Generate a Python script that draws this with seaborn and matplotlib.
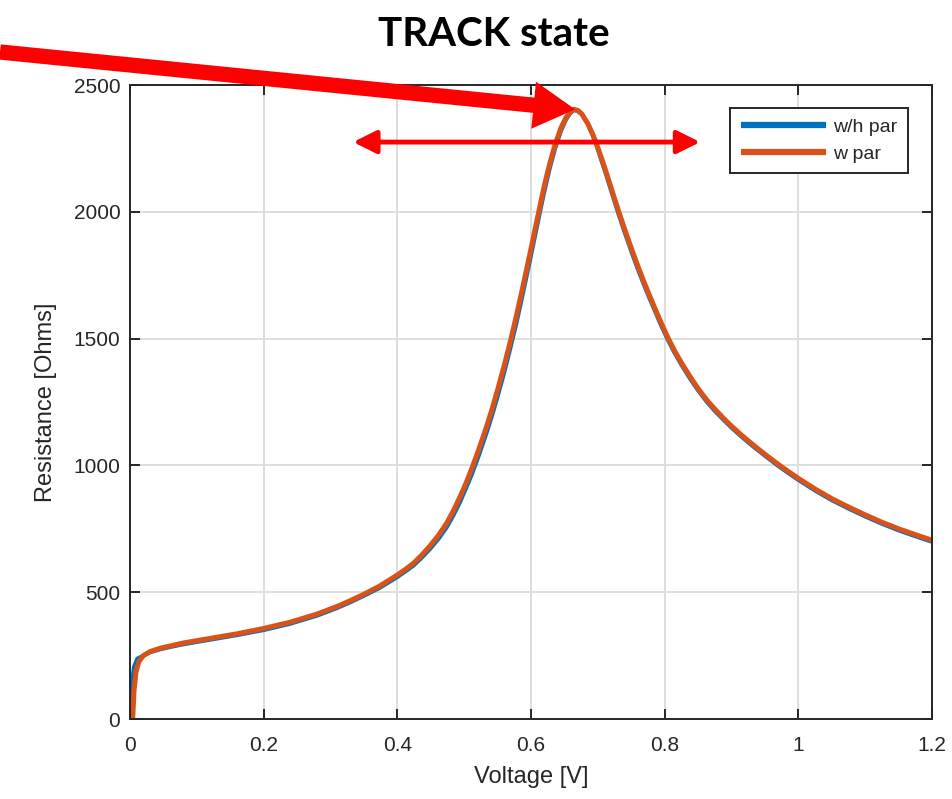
import numpy as np
import pandas as pd
import seaborn as sns
import matplotlib.pyplot as plt

# curve without parasitics (blue) and with parasitics (orange)
volt_whpar = [0.001, 0.003, 0.006, 0.011, 0.02, 0.03, 0.045, 0.06, 0.08, 0.12, 0.16, 0.2,
              0.24, 0.28, 0.31, 0.329, 0.35, 0.374, 0.4, 0.412, 0.424, 0.436, 0.449, 0.462,
              0.474, 0.484, 0.494, 0.503, 0.511, 0.522, 0.534, 0.542, 0.55, 0.56, 0.569,
              0.578, 0.586, 0.592, 0.598, 0.604, 0.609, 0.615, 0.62, 0.628, 0.636, 0.645,
              0.652, 0.658, 0.664, 0.67, 0.676, 0.685, 0.692, 0.698, 0.705, 0.712, 0.721,
              0.731, 0.74, 0.75, 0.759, 0.768, 0.777, 0.785, 0.795, 0.805, 0.815, 0.825,
              0.838, 0.85, 0.863, 0.875, 0.888, 0.9, 0.913, 0.925, 0.938, 0.954, 0.97,
              0.985, 1.0, 1.025, 1.05, 1.075, 1.1, 1.125, 1.15, 1.175, 1.2]
res_whpar = [0, 140, 205, 238, 250, 263, 275, 284, 295, 313, 331, 351,
             376, 408, 438, 460, 486, 518, 560, 582, 605, 635, 671, 712,
             757, 804, 857, 912, 962, 1040, 1133, 1200, 1272, 1368, 1462,
             1560, 1656, 1730, 1804, 1880, 1944, 2020, 2082, 2172, 2250, 2321,
             2362, 2387, 2401, 2398, 2385, 2346, 2304, 2262, 2206, 2150, 2074,
             1991, 1920, 1845, 1780, 1719, 1661, 1612, 1550, 1494, 1443, 1397,
             1342, 1296, 1251, 1215, 1180, 1149, 1118, 1091, 1063, 1030, 998,
             970, 943, 901, 863, 830, 799, 770, 744, 721, 699]

volt_wpar = [0.004, 0.006, 0.009, 0.013, 0.02, 0.03, 0.045, 0.06, 0.08, 0.12, 0.16, 0.2,
             0.24, 0.28, 0.31, 0.329, 0.35, 0.374, 0.4, 0.412, 0.424, 0.436, 0.449, 0.462,
             0.474, 0.484, 0.494, 0.503, 0.511, 0.522, 0.534, 0.542, 0.55, 0.56, 0.569,
             0.578, 0.586, 0.592, 0.598, 0.604, 0.609, 0.615, 0.62, 0.628, 0.636, 0.645,
             0.652, 0.658, 0.664, 0.67, 0.676, 0.685, 0.692, 0.698, 0.705, 0.712, 0.721,
             0.731, 0.74, 0.75, 0.759, 0.768, 0.777, 0.785, 0.795, 0.805, 0.815, 0.825,
             0.838, 0.85, 0.863, 0.875, 0.888, 0.9, 0.913, 0.925, 0.938, 0.954, 0.97,
             0.985, 1.0, 1.025, 1.05, 1.075, 1.1, 1.125, 1.15, 1.175, 1.2]
res_wpar = [0, 110, 185, 225, 250, 266, 279, 288, 300, 318, 336, 357,
            382, 414, 444, 466, 492, 525, 568, 590, 614, 645, 683, 726,
            773, 822, 877, 932, 985, 1064, 1157, 1225, 1298, 1395, 1488,
            1588, 1683, 1756, 1830, 1905, 1968, 2043, 2104, 2190, 2265, 2332,
            2370, 2392, 2404, 2400, 2386, 2348, 2308, 2268, 2215, 2160, 2085,
            2003, 1932, 1857, 1792, 1730, 1672, 1622, 1560, 1503, 1451, 1405,
            1350, 1303, 1258, 1222, 1186, 1155, 1124, 1097, 1069, 1036, 1004,
            976, 949, 907, 869, 836, 805, 776, 750, 727, 705]

series_names = ['w/h par', 'w par']
series_colors = ['#0072BD', '#D95319']

peak_v, peak_r = 0.666, 2404
span_v = [0.334, 0.853]
span_r = 2275

df_whpar = pd.DataFrame({'Voltage': volt_whpar, 'Resistance': res_whpar})
df_wpar = pd.DataFrame({'Voltage': volt_wpar, 'Resistance': res_wpar})

sns.set_theme(style='whitegrid')
plt.rcParams['font.family'] = ['Liberation Sans', 'DejaVu Sans']
plt.rcParams['text.color'] = '#262626'
plt.rcParams['axes.labelcolor'] = '#262626'

fig = plt.figure(figsize=(9.53, 7.99), dpi=100)
ax = fig.add_axes([0.1364, 0.1001, 0.8416, 0.7935])

sns.lineplot(data=df_whpar, x='Voltage', y='Resistance', ax=ax, color=series_colors[0],
             linewidth=3.0, label=series_names[0], sort=False, estimator=None,
             solid_joinstyle='round', solid_capstyle='round')
sns.lineplot(data=df_wpar, x='Voltage', y='Resistance', ax=ax, color=series_colors[1],
             linewidth=3.6, label=series_names[1], sort=False, estimator=None,
             solid_joinstyle='round', solid_capstyle='round')

ax.set_xlim(0, 1.2)
ax.set_ylim(0, 2500)
ax.set_xticks([0, 0.2, 0.4, 0.6, 0.8, 1.0, 1.2])
ax.set_xticklabels(['0', '0.2', '0.4', '0.6', '0.8', '1', '1.2'])
ax.set_yticks([0, 500, 1000, 1500, 2000, 2500])

ax.grid(True, color='#dedede', linewidth=1.4)
for s in ax.spines.values():
    s.set_visible(True)
    s.set_color('#262626')
    s.set_linewidth(1.4)
ax.tick_params(axis='both', which='major', direction='in', length=7, width=1.4,
               color='#262626', labelsize=15, labelcolor='#262626',
               top=True, right=True, bottom=True, left=True)
ax.tick_params(axis='x', pad=12)
ax.tick_params(axis='y', pad=7)

ax.set_xlabel('Voltage [V]', fontsize=17, labelpad=8)
ax.set_ylabel('Resistance [Ohms]', fontsize=17, labelpad=12)

leg = ax.legend(loc='upper right', bbox_to_anchor=(0.970, 0.964), borderaxespad=0,
                fontsize=14, frameon=True, fancybox=False, framealpha=1,
                edgecolor='#262626', handlelength=4.4, borderpad=0.55,
                labelspacing=0.45, handletextpad=0.35)
leg.get_frame().set_linewidth(1.4)
for line in leg.get_lines():
    line.set_linewidth(4.5)
    line.set_solid_capstyle('butt')

fig.text(0.518, 0.957, 'TRACK state', family=['Lato', 'DejaVu Sans'], fontweight='bold',
         fontsize=29, ha='center', va='center', color='black')

# big red pointer to the peak
ax.annotate('', xy=(peak_v, peak_r), xycoords='data',
            xytext=(0.0, 1 - 52 / 799), textcoords='figure fraction',
            arrowprops=dict(arrowstyle='simple,head_length=3.0,head_width=3.4,tail_width=1.1',
                            mutation_scale=10, color='red', shrinkA=0, shrinkB=0, lw=0),
            annotation_clip=False)

# double headed span arrow
ax.annotate('', xy=(span_v[1], span_r), xytext=(span_v[0], span_r),
            arrowprops=dict(arrowstyle='<|-|>,head_length=1.4,head_width=0.7',
                            mutation_scale=10, color='red', lw=3.5,
                            shrinkA=0, shrinkB=0),
            annotation_clip=False)

plt.savefig('out.png', dpi=100)
